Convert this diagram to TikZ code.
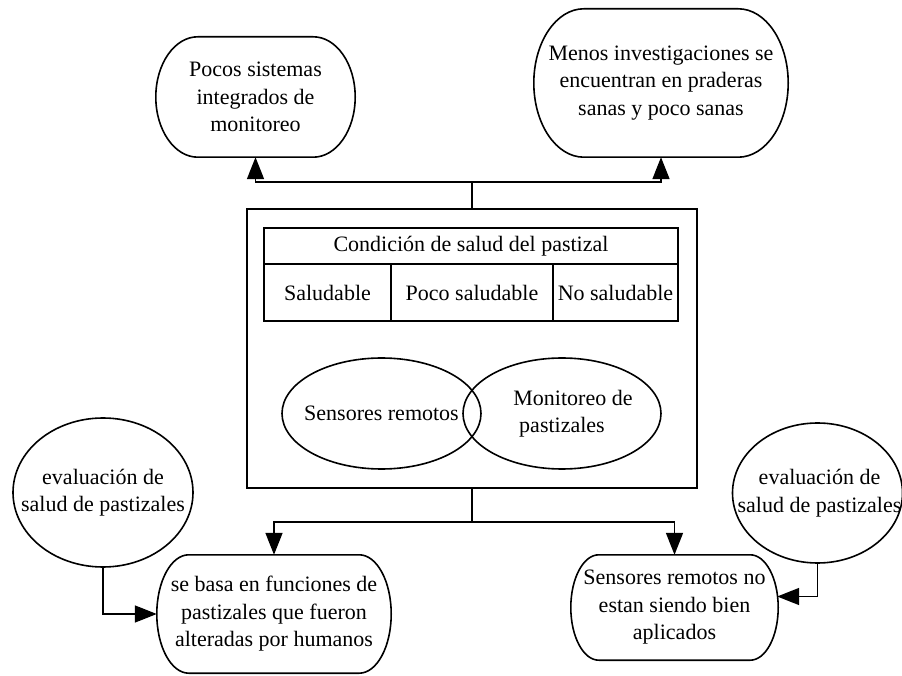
\documentclass[tikz,border=0pt]{standalone}
\usepackage{fontspec}
\setmainfont{Liberation Serif}
\usetikzlibrary{calc,arrows.meta,shapes.geometric}

% capsule outline with elliptical ends around a node: #1 node name, #2 end radius
\newcommand\capsule[2]{%
  \draw[outline] let \p1=(#1.south west), \p2=(#1.north east), \n1={(\y2-\y1)/2} in
    (\x1+#2pt,\y2) -- (\x2-#2pt,\y2)
    arc[start angle=90,end angle=-90,x radius=#2pt,y radius=\n1]
    -- (\x1+#2pt,\y1)
    arc[start angle=270,end angle=90,x radius=#2pt,y radius=\n1] -- cycle;}

\begin{document}
\begin{tikzpicture}[x=1pt,y=1pt,
  every node/.style={font=\fontsize{22}{27.5}\selectfont, inner sep=0pt, align=center},
  outline/.style={line width=1.6pt, black},
  box/.style={draw, line width=1.6pt, minimum width=#1},
  pill/.style={rectangle, draw=none},
  oval/.style={ellipse, draw, line width=1.6pt},
  conn/.style={line width=1.6pt},
  arrow/.style={line width=1.6pt, -{Triangle[length=22pt,width=17pt]}},
]
\useasboundingbox (0,0) rectangle (902,675);

% top outcomes
\node[pill, minimum width=199pt, minimum height=120pt] (tl) at (255.5,578)
  {Pocos sistemas\\integrados de\\monitoreo};
\capsule{tl}{42}
\node[pill, minimum width=254pt, minimum height=148pt] (tr) at (661,592)
  {Menos investigaciones se\\encuentran en praderas\\sanas y poco sanas};
\capsule{tr}{50}

% central frame
\node[draw, line width=1.6pt, minimum width=450pt, minimum height=279pt] (main) at (472,326.5) {};

% health condition table
\node[box=414pt, minimum height=36pt] (hdr) at (471,429) {Condición de salud del pastizal};
\node[box=127pt, minimum height=57pt] (c1) at (327.5,382.5) {Saludable};
\node[box=162pt, minimum height=57pt] (c2) at (472,382.5) {Poco saludable};
\node[box=125pt, minimum height=57pt] (c3) at (615.5,382.5) {No saludable};

% overlapping fields (outlines first, labels on top)
\node[oval, minimum width=199pt, minimum height=111pt] (sr) at (381.5,261.5) {};
\node[oval, minimum width=198pt, minimum height=111pt] (mp) at (562,261.5) {};
\node (srtext) at (sr) {Sensores remotos};
\node (mptext) at (mp) {\hspace*{22pt}Monitoreo de\\pastizales};

% bottom outcomes
\node[pill, minimum width=234pt, minimum height=118pt] (bl) at (274,61)
  {se basa en funciones de\\pastizales que fueron\\alteradas por humanos};
\capsule{bl}{32}
\node[pill, minimum width=207pt, minimum height=105pt] (br) at (674.5,67.5)
  {Sensores remotos no\\estan siendo bien\\aplicados};
\capsule{br}{28}

% assessment ovals
\node[oval, minimum width=180pt, minimum height=149pt] (evl) at (103,182.5) {};
\node (evltext) at (evl) {evaluación de\\salud de pastizales};
\node[oval, minimum width=170pt, minimum height=140pt] (evr) at (817.5,182) {};
\node (evrtext) at ([xshift=2pt]evr.center) {evaluación de\\salud de pastizales};

% connectors
\draw[conn] (main.north) -- ++(0,26) coordinate (jt);
\draw[arrow] (jt) -| (tl.south);
\draw[arrow] (jt) -| (tr.south);
\draw[conn] (main.south) -- ++(0,-33) coordinate (jb);
\draw[arrow] (jb) -| (bl.north);
\draw[arrow] (jb) -| (br.north);
\draw[arrow] (evl.south) |- (bl.west);
\draw[arrow] (evr.south) |- ($(br.east)+(-1,11)$);
\end{tikzpicture}
\end{document}
